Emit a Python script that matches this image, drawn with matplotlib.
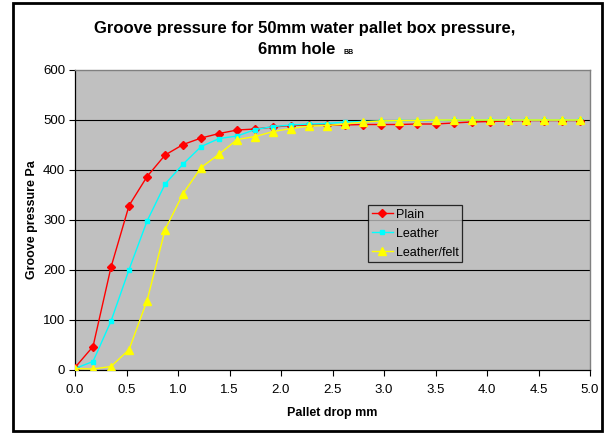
import matplotlib
matplotlib.use("Agg")
import matplotlib.pyplot as plt
from matplotlib.patches import Rectangle

plt.rcParams['font.family'] = ['Liberation Sans', 'DejaVu Sans']

x_step = 0.175
n_points = 29
pallet_drop = [round(i * x_step, 3) for i in range(n_points)]

plain = [5, 47, 206, 329, 387, 430, 451, 464, 473, 480, 482, 486, 489, 490, 490,
         490, 491, 491, 491, 492, 492, 494, 496, 497, 498, 499, 499, 499, 499]
leather = [3, 17, 98, 201, 298, 372, 412, 447, 463, 468, 481, 487, 490, 492, 493,
           496, 497, 498, 499, 499, 499, 500, 500, 500, 500, 500, 500, 500, 500]
leather_felt = [3, 2, 7, 41, 139, 281, 353, 405, 432, 461, 467, 477, 483, 488, 489,
                492, 496, 498, 499, 499, 500, 500, 500, 500, 500, 500, 500, 500, 500]

series_names = ["Plain", "Leather", "Leather/felt"]
x_ticks = [0.0, 0.5, 1.0, 1.5, 2.0, 2.5, 3.0, 3.5, 4.0, 4.5, 5.0]
y_ticks = [0, 100, 200, 300, 400, 500, 600]

W, H = 608, 434
fig = plt.figure(figsize=(W / 100, H / 100), dpi=100)
ax = fig.add_axes([75 / W, 1 - 370 / H, (590 - 75) / W, (370 - 70) / H])
ax.set_facecolor('#C0C0C0')

for yv in y_ticks[1:-1]:
    ax.axhline(yv, color='black', lw=0.8, zorder=1)

ax.plot(pallet_drop, plain, color='#FF0000', lw=1.0, marker='D', ms=4.5,
        label=series_names[0], zorder=3)
ax.plot(pallet_drop, leather, color='#00FFFF', lw=1.0, marker='s', ms=3.5,
        label=series_names[1], zorder=4)
ax.plot(pallet_drop, leather_felt, color='#FFFF00', lw=1.0, marker='^', ms=6,
        label=series_names[2], zorder=5)

ax.set_xlim(0, 5)
ax.set_ylim(0, 600)
ax.set_xticks(x_ticks)
ax.set_xticklabels([f"{v:.1f}" for v in x_ticks])
ax.set_yticks(y_ticks)
ax.tick_params(axis='both', direction='out', length=4, width=0.8, labelsize=9.5,
               colors='black', pad=3)
ax.tick_params(axis='x', pad=6)

for side in ['top', 'right']:
    ax.spines[side].set_color('#808080')
    ax.spines[side].set_linewidth(1.0)
for side in ['left', 'bottom']:
    ax.spines[side].set_color('black')
    ax.spines[side].set_linewidth(0.9)

ax.set_xlabel("Pallet drop mm", fontsize=9, fontweight='bold', labelpad=8)
ax.set_ylabel("Groove pressure Pa", fontsize=9, fontweight='bold', va='center')
ax.yaxis.set_label_coords((32 - 75) / (590 - 75), 0.5)

leg = ax.legend(loc='upper left', bbox_to_anchor=(0.569, 0.55), borderaxespad=0,
                frameon=True, fancybox=False, fontsize=9, handlelength=1.7,
                handletextpad=0.2, labelspacing=0.55, borderpad=0.3)
leg.get_frame().set_edgecolor('black')
leg.get_frame().set_facecolor('#C0C0C0')
leg.get_frame().set_linewidth(0.9)

fig.text(305 / W, 1 - 28 / H, "Groove pressure for 50mm water pallet box pressure,",
         ha='center', va='center', fontsize=12, fontweight='bold')
fig.text(297 / W, 1 - 50 / H, "6mm hole", ha='center', va='center',
         fontsize=12, fontweight='bold')
fig.text(343 / W, 1 - 52 / H, "BB", ha='left', va='center', fontsize=5,
         fontweight='bold')

fig.patches.append(Rectangle((13 / W, 3 / H), (602 - 13) / W, (431 - 3) / H,
                             transform=fig.transFigure, fill=False,
                             edgecolor='black', lw=2.0))

fig.savefig("out.png", dpi=100)
